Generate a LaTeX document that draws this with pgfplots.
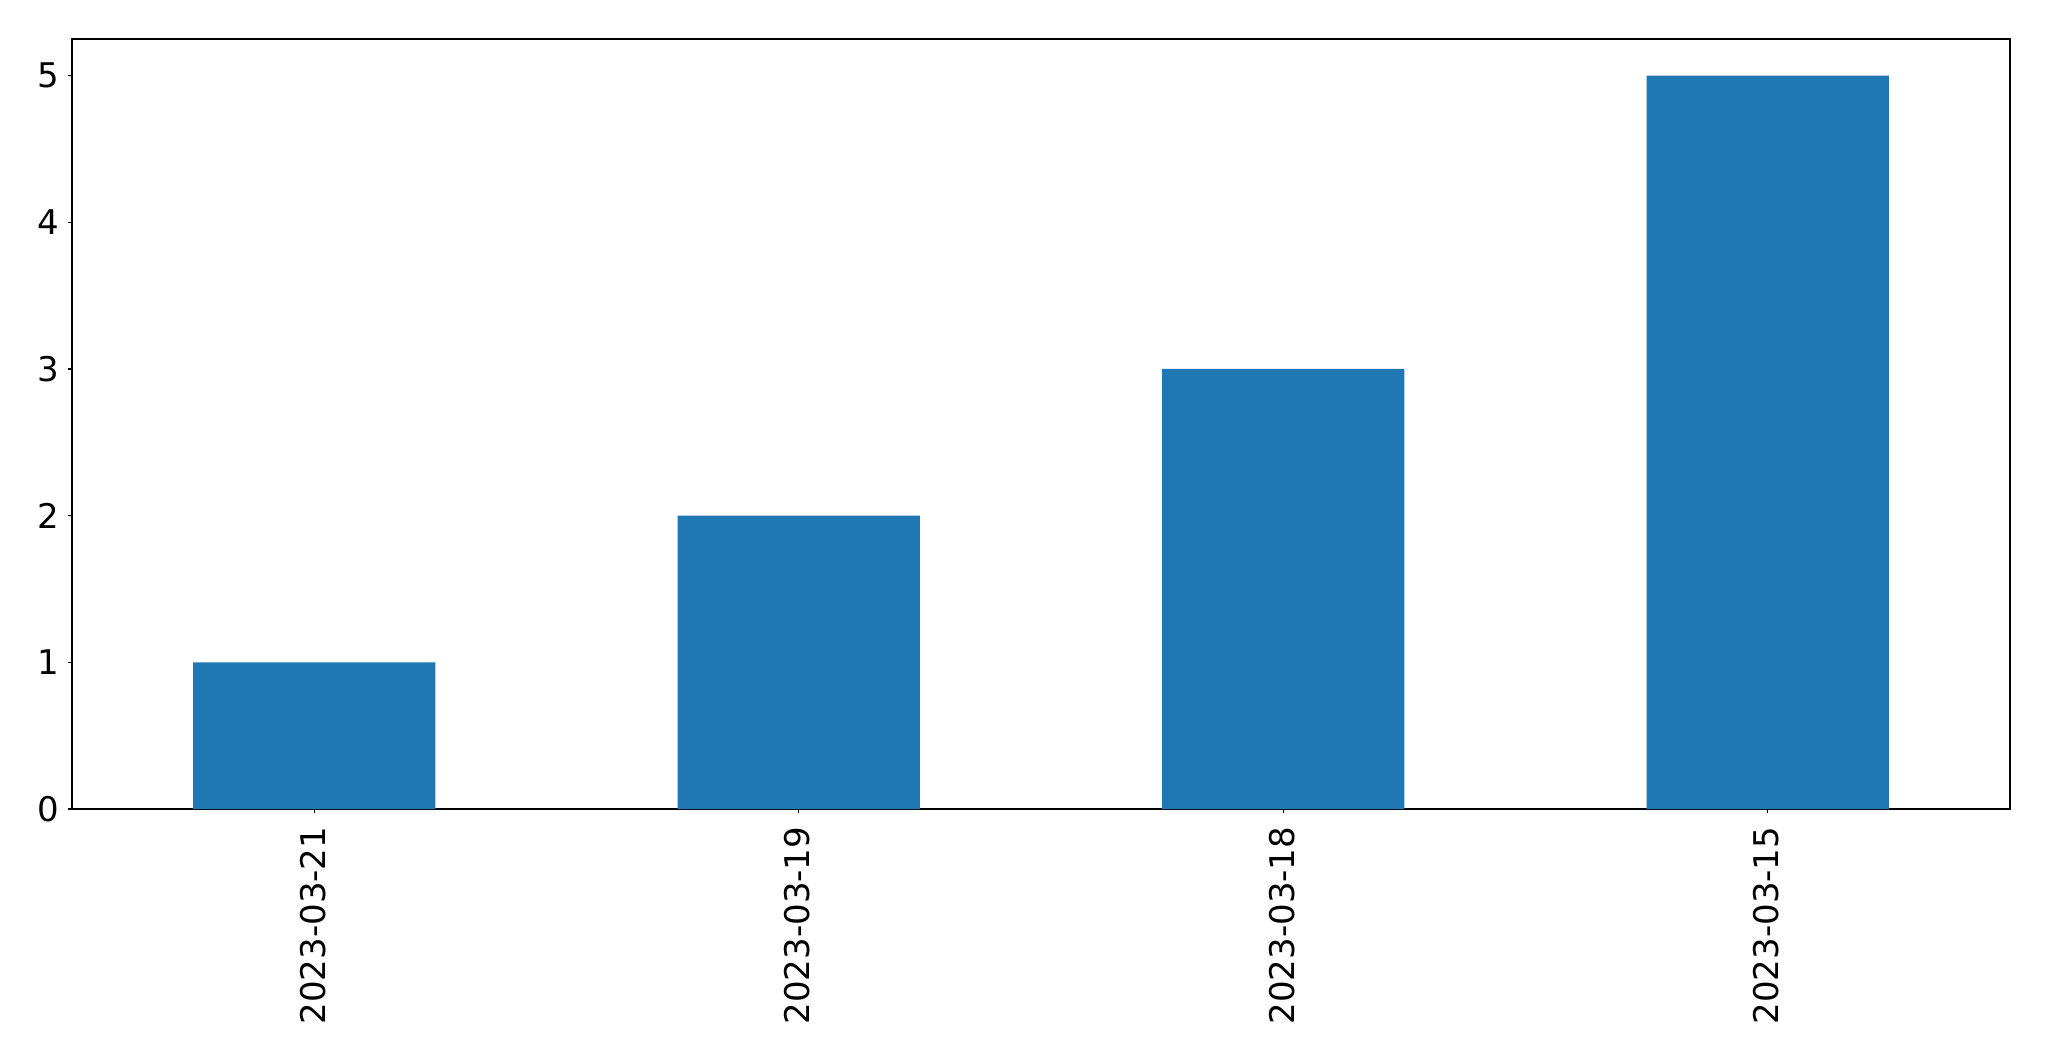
\documentclass[border=0pt]{standalone}
\usepackage{pgfplots}
\pgfplotsset{compat=1.18}
\usepackage{fontspec}
\setmainfont{DejaVu Sans}
\definecolor{mplblue}{HTML}{1F77B4}
\begin{document}
\begin{tikzpicture}
\useasboundingbox (-36pt,-126pt) rectangle (988.5pt,404.5pt);
\begin{axis}[
  at={(0pt,0pt)}, anchor=south west,
  scale only axis,
  width=969pt, height=385pt,
  xmin=-0.5, xmax=3.5,
  ymin=0, ymax=5.25,
  xtick={0,1,2,3},
  xticklabels={2023-03-21,2023-03-19,2023-03-18,2023-03-15},
  ytick={0,1,2,3,4,5},
  xtick pos=left, ytick pos=left,
  tick align=outside,
  major tick length=2.15pt,
  every tick/.style={black, line width=0.55pt},
  axis line style={black, line width=0.55pt},
  /pgf/number format/assume math mode=true,
  tick label style={font=\fontsize{17pt}{20pt}\selectfont},
  xticklabel style={yshift=-6.5pt, xshift=-0.6pt, rotate=90, anchor=east, inner sep=0pt},
  yticklabel style={anchor=east, inner sep=0pt, xshift=-4.3pt},
  ybar, bar width=0.5, bar shift=0pt,
]
\addplot[fill=mplblue, draw=none] coordinates {(0,1) (1,2) (2,3) (3,5)};
\end{axis}
\end{tikzpicture}
\end{document}
